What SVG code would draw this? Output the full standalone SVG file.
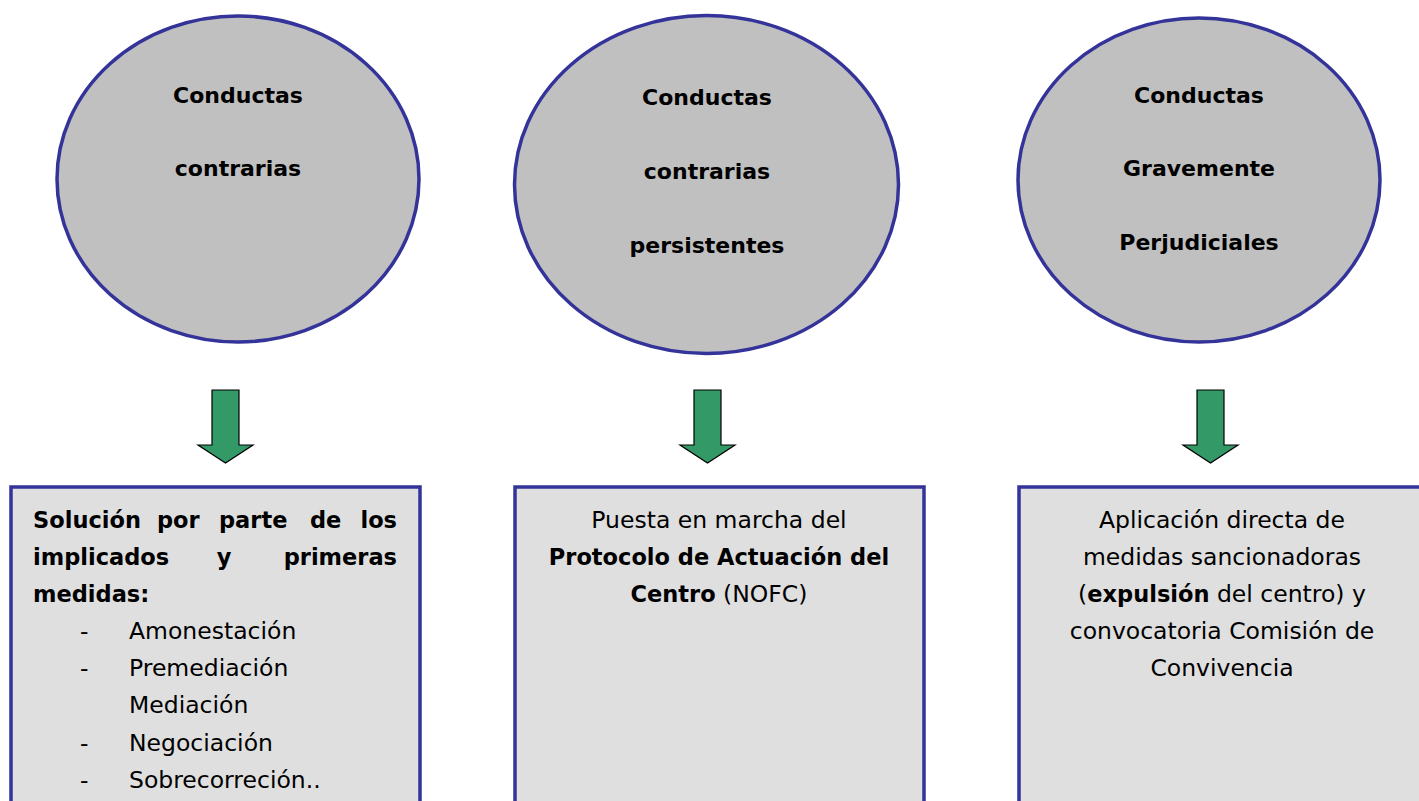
<svg xmlns="http://www.w3.org/2000/svg" width="1419" height="801" viewBox="0 0 1419 801">
<style>
.ell{fill:#c0c0c0;stroke:#333399;stroke-width:3.5}
.box{fill:#dfdfdf;stroke:#333399;stroke-width:3.5}
.arr{fill:#339966;stroke:#000;stroke-width:1.2}
text{font-family:"Comic Sans MS","DejaVu Sans","Noto Sans",sans-serif;font-size:23.5px;fill:#000}
.t{font-weight:bold;text-anchor:middle;font-size:22px}
.c{text-anchor:middle}
.b{font-weight:bold;font-size:22.5px}
.tb{font-weight:bold;text-anchor:middle;font-size:22.5px}
</style>
<rect width="1419" height="801" fill="#fff"/>
<g id="node-c1">
<ellipse class="ell" cx="238" cy="179" rx="181" ry="163"/>
<text class="t" x="238" y="103">Conductas</text>
<text class="t" x="238" y="176">contrarias</text>
</g>
<g id="node-c2">
<ellipse class="ell" cx="706.5" cy="184.5" rx="192" ry="169"/>
<text class="t" x="707" y="105">Conductas</text>
<text class="t" x="707" y="179">contrarias</text>
<text class="t" x="707" y="253">persistentes</text>
</g>
<g id="node-c3">
<ellipse class="ell" cx="1199" cy="180" rx="181" ry="162"/>
<text class="t" x="1199" y="103">Conductas</text>
<text class="t" x="1199" y="176">Gravemente</text>
<text class="t" x="1199" y="250">Perjudiciales</text>
</g>
<g id="connectors">
<path class="arr" d="M212,390 H239 V445 H253 L225.5,463 L198,445 H212 Z"/>
<path class="arr" d="M694,390 H721 V445 H735 L707.5,463 L680,445 H694 Z"/>
<path class="arr" d="M1197,390 H1224 V445 H1238 L1210.5,463 L1183,445 H1197 Z"/>
</g>
<g id="node-b1">
<rect class="box" x="11" y="487" width="409" height="330"/>
<text class="b" x="33" y="528">Solución</text>
<text class="b" x="157" y="528">por</text>
<text class="b" x="219" y="528">parte</text>
<text class="b" x="310" y="528">de</text>
<text class="b" x="397" y="528" text-anchor="end">los</text>
<text class="b" x="33" y="565">implicados</text>
<text class="b" x="224" y="565" text-anchor="middle">y</text>
<text class="b" x="397" y="565" text-anchor="end">primeras</text>
<text class="b" x="33" y="602">medidas:</text>
<text x="80" y="639">-</text><text x="129" y="639">Amonestación</text>
<text x="80" y="676">-</text><text x="129" y="676">Premediación</text>
<text x="129" y="713">Mediación</text>
<text x="80" y="751">-</text><text x="129" y="751">Negociación</text>
<text x="80" y="788">-</text><text x="129" y="788">Sobrecorreción..</text>
</g>
<g id="node-b2">
<rect class="box" x="515" y="487" width="409" height="330"/>
<text class="c" x="719" y="528">Puesta en marcha del</text>
<text class="tb" x="719" y="565">Protocolo de Actuación del</text>
<text class="c" x="719" y="602"><tspan class="b">Centro</tspan> (NOFC)</text>
</g>
<g id="node-b3">
<rect class="box" x="1019" y="487" width="409" height="330"/>
<text class="c" x="1222" y="528">Aplicación directa de</text>
<text class="c" x="1222" y="565">medidas sancionadoras</text>
<text class="c" x="1222" y="602">(<tspan class="b">expulsión</tspan> del centro) y</text>
<text class="c" x="1222" y="639">convocatoria Comisión de</text>
<text class="c" x="1222" y="676">Convivencia</text>
</g>
</svg>
